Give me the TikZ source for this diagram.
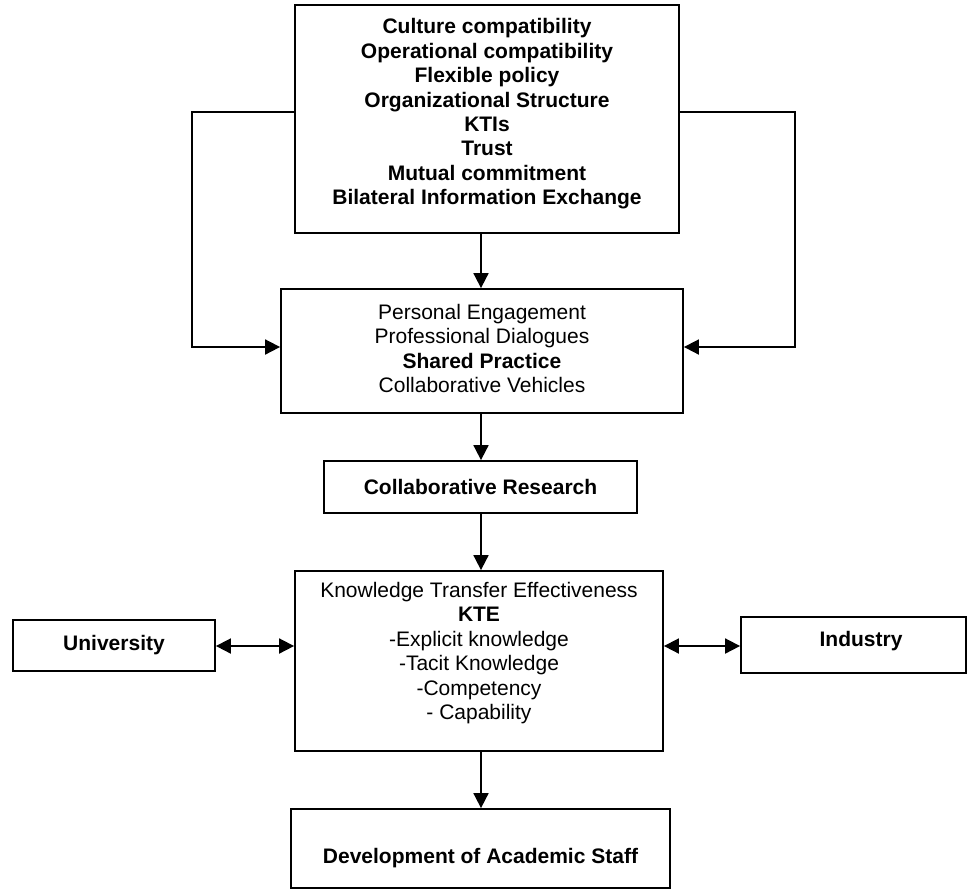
\documentclass[tikz,border=0pt]{standalone}
\usepackage{fontspec}
\setmainfont{Liberation Sans}
\usetikzlibrary{arrows.meta}
\tikzset{
  box/.style={draw=black,line width=0.9pt,inner sep=0pt},
  txt/.style={align=center,inner sep=0pt},
  arr/.style={line width=0.9pt,-{Triangle[length=7.5pt,width=7.5pt]}},
  dbl/.style={line width=0.9pt,{Triangle[length=7.5pt,width=7.5pt]}-{Triangle[length=7.5pt,width=7.5pt]}}
}

\begin{document}
\begin{tikzpicture}[x=0.5pt,y=-0.5pt,font=\fontsize{10.5}{12.2}\selectfont]
  \useasboundingbox (0,0) rectangle (968,890);

  % boxes
  \node[box,minimum width=192pt,minimum height=114pt] (factors) at (487,119) {};
  \node[box,minimum width=201pt,minimum height=62pt] (engage) at (482,351) {};
  \node[box,minimum width=156.5pt,minimum height=26pt,font=\bfseries\fontsize{10.5}{12.2}\selectfont] (research) at (480.5,487) {Collaborative Research};
  \node[box,minimum width=184pt,minimum height=90pt] (kte) at (479,661) {};
  \node[box,minimum width=101pt,minimum height=25.5pt,font=\bfseries\fontsize{10.5}{12.2}\selectfont] (uni) at (114,645.5) {University};
  \node[box,minimum width=112.5pt,minimum height=28pt] (ind) at (853.5,645) {};
  \node[box,minimum width=189.5pt,minimum height=39.5pt] (staff) at (480.5,848.5) {};

  % texts
  \node[txt,font=\bfseries\fontsize{10.5}{12.2}\selectfont] (factors-t) at (487,114)
    {Culture compatibility\\Operational compatibility\\Flexible policy\\
     Organizational Structure\\KTIs\\Trust\\Mutual commitment\\
     Bilateral Information Exchange};
  \node[txt] (engage-t) at (482,348.5)
    {Personal Engagement\\Professional Dialogues\\\textbf{Shared Practice}\\
     Collaborative Vehicles};
  \node[txt] (kte-t) at (479,653)
    {Knowledge Transfer Effectiveness\\\textbf{KTE}\\-Explicit knowledge\\
     -Tacit Knowledge\\-Competency\\- Capability};
  \node[txt,font=\bfseries\fontsize{10.5}{12.2}\selectfont] (ind-t) at (861,641) {Industry};
  \node[txt,font=\bfseries\fontsize{10.5}{12.2}\selectfont] (staff-t) at (480.5,858) {Development of Academic Staff};

  % connectors
  \coordinate (spine) at (481,0);
  \coordinate (fbL) at (192,112);
  \coordinate (fbR) at (795,112);
  \coordinate (fbY) at (0,347);
  \draw[arr] (factors.south -| spine) -- (engage.north -| spine);
  \draw[arr] (engage.south -| spine) -- (research.north -| spine);
  \draw[arr] (research.south -| spine) -- (kte.north -| spine);
  \draw[arr] (kte.south -| spine) -- (staff.north -| spine);
  \draw[arr] (factors.west |- fbL) -- (fbL) |- (engage.west |- fbY);
  \draw[arr] (factors.east |- fbR) -- (fbR) |- (engage.east |- fbY);
  \draw[dbl] (uni.east |- 0,646) -- (kte.west |- 0,646);
  \draw[dbl] (kte.east |- 0,646) -- (ind.west |- 0,646);
\end{tikzpicture}
\end{document}
